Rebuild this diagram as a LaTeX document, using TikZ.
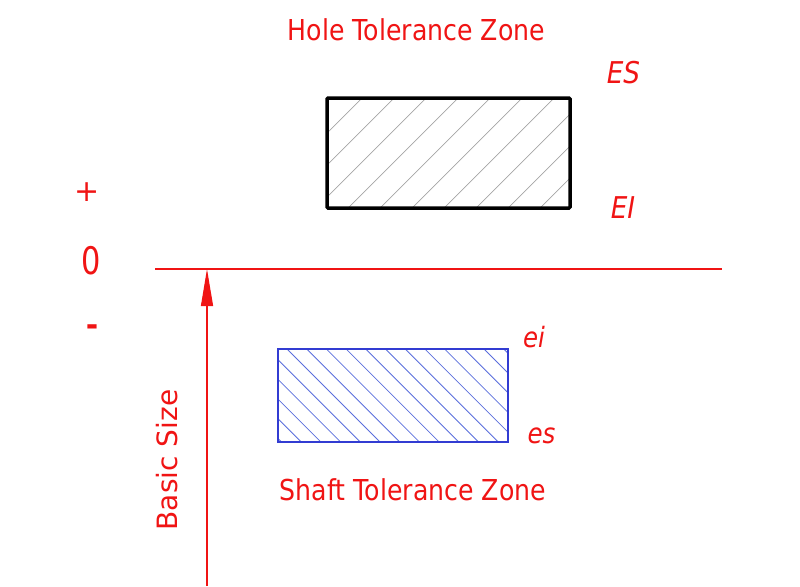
\documentclass[tikz,border=0pt]{standalone}
\usepackage{fontspec}
\setmainfont{DejaVu Sans}
\newfontfamily\tah[FakeStretch=0.875]{DejaVu Sans}
\newfontfamily\tahn[FakeStretch=0.8]{DejaVu Sans}
\usetikzlibrary{arrows.meta}
\definecolor{dred}{RGB}{240,20,20}
\definecolor{dblue}{RGB}{50,60,210}
\definecolor{hblue}{RGB}{90,110,220}
\definecolor{hgray}{RGB}{165,165,165}
\begin{document}
\begin{tikzpicture}[x=1pt,y=-1pt,
  lbl/.style={text=dred,font=\tah\fontsize{28.8}{32}\selectfont,inner sep=0pt},
  ilbl/.style={text=dred,font=\tah\fontsize{30}{32}\selectfont\itshape,inner sep=0pt},
  slbl/.style={text=dred,font=\tah\fontsize{28}{30}\selectfont\itshape,inner sep=0pt},
  redline/.style={color=dred,line width=1.2pt}]
\useasboundingbox (0,0) rectangle (800,586);
% hole zone
\begin{scope}
  \clip (327,98) rectangle (570,208);
  \foreach \k in {-4,...,8} {
    \draw[hgray,line width=0.7pt] (348+32*\k,208) -- ++(130,-130);
  }
\end{scope}
\node[draw=black,line width=3.5pt,minimum width=243pt,minimum height=110pt,inner sep=0pt,rounded corners=1pt] (hole) at (448.5,153) {};
% shaft zone
\begin{scope}
  \clip (278,349) rectangle (508,442);
  \foreach \k in {-6,...,12} {
    \draw[hblue,line width=0.8pt] (287+19.7*\k,349) -- ++(100,100);
  }
\end{scope}
\node[draw=dblue,line width=1.1pt,minimum width=230pt,minimum height=93pt,inner sep=0pt] (shaft) at (393,395.5) {};
% zero line
\coordinate (zl) at (155,269);
\coordinate (zr) at (722,269);
\draw[redline] (zl) -- (zr);
\coordinate (ab) at (207,586);
\coordinate (at) at (207,269);
\draw[redline,-{Triangle[length=37pt,width=12pt]}] (ab) -- (at);
% labels
\node[lbl] (holet) at (416.5,29.5) {Hole Tolerance Zone};
\node[lbl] (shaftt) at (413,490) {Shaft Tolerance Zone};
\node[text=dred,font=\fontsize{28}{32}\selectfont,inner sep=0pt,rotate=90] (basic) at (167,460) {Basic Size};
\node[ilbl] (ES) at (623.5,73) {ES};
\node[ilbl] (EI) at (623,208) {EI};
\node[slbl] (ei) at (534,337) {ei};
\node[slbl] (es) at (541.5,436) {es};
\node[text=dred,font=\fontsize{30}{32}\selectfont,inner sep=0pt] (plus) at (87,192) {+};
\node[text=dred,font=\tahn\fontsize{38}{40}\selectfont,inner sep=0pt] (zero) at (91,261) {0};
\node[text=dred,font=\bfseries\fontsize{30}{32}\selectfont,inner sep=0pt] (minus) at (92,330) {-};
\end{tikzpicture}
\end{document}
